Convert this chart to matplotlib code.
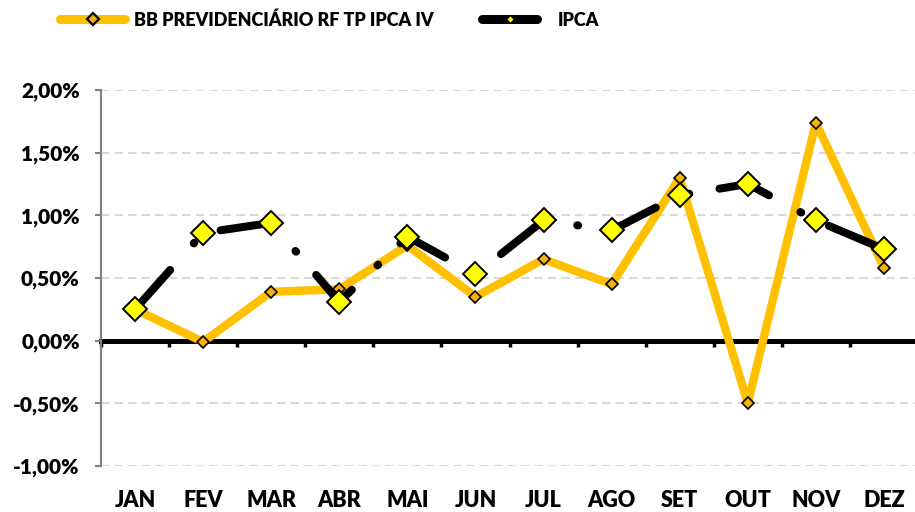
import numpy as np
import matplotlib.pyplot as plt
from matplotlib.lines import Line2D
from matplotlib.ticker import FuncFormatter

# Dados (rentabilidade mensal, %)
meses = ["JAN", "FEV", "MAR", "ABR", "MAI", "JUN", "JUL", "AGO", "SET", "OUT", "NOV", "DEZ"]
bb_prev = [0.25, -0.01, 0.39, 0.41, 0.76, 0.35, 0.65, 0.45, 1.30, -0.50, 1.74, 0.58]
ipca = [0.25, 0.86, 0.94, 0.31, 0.83, 0.53, 0.96, 0.88, 1.16, 1.25, 0.96, 0.73]
nome_bb = "BB PREVIDENCIÁRIO RF TP IPCA IV"
nome_ipca = "IPCA"

plt.rcParams['font.family'] = ['Lato', 'DejaVu Sans']
peso = 'heavy'

laranja = "#FFC000"
amarelo = "#FFFF00"

fig = plt.figure(figsize=(9.15, 5.12), dpi=100)
ax = fig.add_axes([101/915, 46/512, 817/915, 376/512])

x = np.arange(len(meses))

# serie BB
ax.plot(x, bb_prev, color=laranja, lw=6, solid_joinstyle='round', zorder=3,
        marker='D', ms=6.6, mfc="#F5B400", mec='black', mew=1.2)

# serie IPCA (traço longo + ponto)
ax.plot(x, ipca, color='black', lw=5.76, linestyle=(0, (6.6, 4.44, 0.12, 3.84)),
        dash_capstyle='round', zorder=4,
        marker='D', ms=12.2, mfc=amarelo, mec='black', mew=1.4)

# eixos
ax.set_xlim(-0.5, 11.5)
ax.set_ylim(-1.0, 2.0)
ax.set_yticks(np.arange(-1.0, 2.01, 0.5))
ax.yaxis.set_major_formatter(FuncFormatter(lambda v, p: f"{v:.2f}%".replace(".", ",")))
ax.set_xticks(x)
ax.set_xticklabels(meses)
ax.tick_params(axis='x', length=0, pad=17, labelsize=15.5)
ax.tick_params(axis='y', length=4.3, width=1.5, color='#808080', pad=11, labelsize=15)

for lbl in ax.get_xticklabels() + ax.get_yticklabels():
    lbl.set_fontweight(peso)

for s in ['top', 'right', 'bottom']:
    ax.spines[s].set_visible(False)
ax.spines['left'].set_color('#808080')
ax.spines['left'].set_linewidth(1.5)

# grade
for v in ax.get_yticks():
    if v != 0:
        ax.axhline(v, color='#D9D9D9', lw=1.5, linestyle=(0, (4, 2.5)), zorder=1)

# linha do zero com marcas entre categorias
sec = ax.secondary_xaxis(1/3)
sec.spines['bottom'].set_linewidth(3.6)
sec.spines['bottom'].set_color('black')
sec.spines['bottom'].set_zorder(2)
sec.set_xticks(np.arange(-0.5, 12, 1.0))
sec.tick_params(axis='x', direction='out', length=4, width=2.5, color='black', labelbottom=False)

# legenda
h1 = Line2D([], [], color=laranja, lw=6.5, solid_capstyle='round',
            marker='D', ms=5.8, mfc="#F5B400", mec='black', mew=1.6)
h2 = Line2D([], [], color='black', lw=6.5, solid_capstyle='round',
            marker='D', ms=4.5, mfc=amarelo, mec='black', mew=1.0)
fig.legend([h1], [nome_bb], loc='center left', bbox_to_anchor=(60/915, 1 - 20/512),
           frameon=False, borderpad=0, borderaxespad=0, handlelength=3.6,
           handletextpad=0.5, prop={'weight': peso, 'size': 13})
fig.legend([h2], [nome_ipca], loc='center left', bbox_to_anchor=(482/915, 1 - 20/512),
           frameon=False, borderpad=0, borderaxespad=0, handlelength=3.05,
           handletextpad=1.16, prop={'weight': peso, 'size': 13})

plt.savefig("out.png", dpi=100)
